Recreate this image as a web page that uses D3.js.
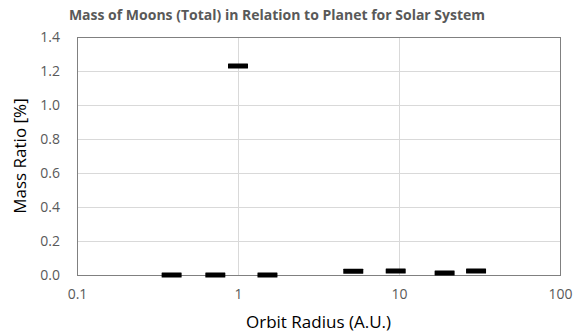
<!DOCTYPE html>
<html>
<head>
<meta charset="utf-8">
<script src="https://cdn.jsdelivr.net/npm/d3@7"></script>
<style>
  body { margin: 0; background: #fff; }
  text { font-family: "Open Sans", "Noto Sans", sans-serif; }
</style>
</head>
<body>
<div id="chart"></div>
<script>
var svgWidth = 580;
var svgHeight = 332;

var margin = {
  top: 37,
  right: 20,
  bottom: 57,
  left: 77
};

var width = svgWidth - margin.left - margin.right;
var height = svgHeight - margin.top - margin.bottom;

// planets: orbit radius (A.U.) and total moon mass relative to planet (%)
var planets = ["Mercury", "Venus", "Earth", "Mars", "Jupiter", "Saturn", "Uranus", "Neptune"];
var orbitRadius = [0.387, 0.723, 1.0, 1.524, 5.2, 9.54, 19.2, 30.1];
var massRatio = [0, 0, 1.23, 0.0000017, 0.022, 0.024, 0.012, 0.024];

var xTicks = [0.1, 1, 10, 100];
var yTicks = [0, 0.2, 0.4, 0.6, 0.8, 1.0, 1.2, 1.4];

var data = planets.map(function (p, i) {
  return { planet: p, radius: orbitRadius[i], ratio: massRatio[i] };
});

var svg = d3.select("#chart")
  .append("svg")
  .attr("width", svgWidth)
  .attr("height", svgHeight);

var chartGroup = svg.append("g")
  .attr("transform", `translate(${margin.left}, ${margin.top})`);

var xScale = d3.scaleLog()
  .domain([0.1, 100])
  .range([0, width]);

var yScale = d3.scaleLinear()
  .domain([0, 1.4])
  .range([height, 0]);

// horizontal gridlines
chartGroup.append("g")
  .selectAll("line")
  .data(yTicks.slice(1, -1))
  .enter()
  .append("line")
  .attr("x1", 0)
  .attr("x2", width)
  .attr("y1", d => Math.round(yScale(d)) + 0.5)
  .attr("y2", d => Math.round(yScale(d)) + 0.5)
  .attr("stroke", "#d9d9d9");

// vertical gridlines
chartGroup.append("g")
  .selectAll("line")
  .data(xTicks.slice(1, -1))
  .enter()
  .append("line")
  .attr("x1", d => Math.round(xScale(d)) + 0.5)
  .attr("x2", d => Math.round(xScale(d)) + 0.5)
  .attr("y1", 0)
  .attr("y2", height)
  .attr("stroke", "#d9d9d9");

// plot frame
chartGroup.append("rect")
  .attr("x", 0.5)
  .attr("y", 0.5)
  .attr("width", width)
  .attr("height", height)
  .attr("fill", "none")
  .attr("stroke", "#808080");

// axes (labels only)
var bottomAxis = d3.axisBottom(xScale)
  .tickValues(xTicks)
  .tickFormat(d3.format("~g"))
  .tickSize(0)
  .tickPadding(14);

var leftAxis = d3.axisLeft(yScale)
  .tickValues(yTicks)
  .tickFormat(d3.format(".1f"))
  .tickSize(0)
  .tickPadding(17);

var xAxis = chartGroup.append("g")
  .attr("transform", `translate(0, ${height})`)
  .call(bottomAxis);

var yAxis = chartGroup.append("g")
  .call(leftAxis);

[xAxis, yAxis].forEach(function (ax) {
  ax.select(".domain").remove();
  ax.selectAll("text")
    .attr("fill", "#595959")
    .style("font-family", "'Open Sans', sans-serif")
    .style("font-size", "14px");
});

// markers: short thick dashes
chartGroup.append("g")
  .selectAll("rect")
  .data(data)
  .enter()
  .append("rect")
  .attr("x", d => xScale(d.radius) - 10)
  .attr("y", d => yScale(d.ratio) - 2.5)
  .attr("width", 20)
  .attr("height", 5)
  .attr("rx", 0.5)
  .attr("fill", "#000");

// title
svg.append("text")
  .attr("x", 277)
  .attr("y", 20)
  .attr("text-anchor", "middle")
  .attr("fill", "#595959")
  .style("font-size", "14px")
  .style("font-weight", "bold")
  .text("Mass of Moons (Total) in Relation to Planet for Solar System");

// x axis title
svg.append("text")
  .attr("x", margin.left + width / 2)
  .attr("y", 328)
  .attr("text-anchor", "middle")
  .attr("fill", "#000")
  .style("font-size", "17px")
  .text("Orbit Radius (A.U.)");

// y axis title
svg.append("text")
  .attr("transform", `translate(26, ${margin.top + height / 2}) rotate(-90)`)
  .attr("text-anchor", "middle")
  .attr("fill", "#000")
  .style("font-size", "17px")
  .text("Mass Ratio [%]");
</script>
</body>
</html>
